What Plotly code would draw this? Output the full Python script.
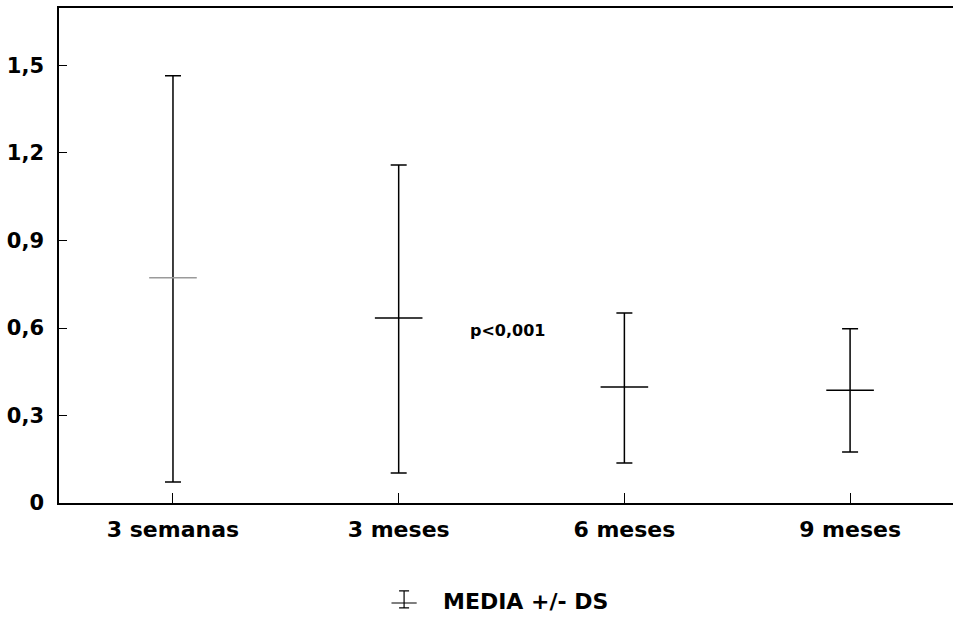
import plotly.graph_objects as go

categories = ["3 semanas", "3 meses", "6 meses", "9 meses"]
means = [0.772, 0.634, 0.398, 0.387]
upper = [1.465, 1.159, 0.651, 0.597]
lower = [0.072, 0.103, 0.137, 0.175]
y_tickvals = [0, 0.3, 0.6, 0.9, 1.2, 1.5]
y_ticktext = ["0", "0,3", "0,6", "0,9", "1,2", "1,5"]
annotation_text = "p<0,001"
annotation_pos = (1.48, 0.593)
legend_label = "MEDIA +/- DS"
legend_mark = {"y": -0.125, "plus": 0.5, "minus": 0.208}

x = list(range(len(categories)))
err_plus = [u - m for u, m in zip(upper, means)]
err_minus = [m - l for m, l in zip(means, lower)]

FONT = "DejaVu Sans"

fig = go.Figure()
fig.add_trace(go.Scatter(
    x=x, y=means, mode="markers",
    marker=dict(symbol="line-ew", size=34, color="black",
                line=dict(width=1.5, color=["#9a9a9a", "black", "black", "black"])),
    error_y=dict(type="data", symmetric=False, array=err_plus, arrayminus=err_minus,
                 color="black", thickness=1.5, width=8),
    showlegend=False, hoverinfo="skip",
))

# legend glyph on a small helper axis
fig.add_trace(go.Scatter(
    x=[0], y=[legend_mark["y"]], mode="markers", xaxis="x2", yaxis="y2",
    marker=dict(symbol="line-ew", size=18, color="black", line=dict(width=1.2, color="black")),
    error_y=dict(type="data", symmetric=False, array=[legend_mark["plus"]],
                 arrayminus=[legend_mark["minus"]], color="black", thickness=1.2, width=5),
    showlegend=False, hoverinfo="skip",
))

fig.add_annotation(x=annotation_pos[0], y=annotation_pos[1], text="<b>" + annotation_text.replace("<", "&lt;") + "</b>",
                   showarrow=False, font=dict(family=FONT, size=16, color="black"),
                   xref="x", yref="y")
fig.add_annotation(x=0.427, y=0.0373, xref="paper", yref="paper", text="<b>" + legend_label + "</b>",
                   showarrow=False, xanchor="left", yanchor="middle",
                   font=dict(family=FONT, size=22, color="black"))

fig.update_layout(
    width=953, height=624,
    margin=dict(l=59, r=0, t=8, b=0, autoexpand=False),
    paper_bgcolor="white", plot_bgcolor="white",
    font=dict(family=FONT, color="black"),
    xaxis=dict(range=[-0.505, 3.456], tickvals=x, ticktext=["<b>" + c + "</b>" for c in categories],
               showline=True, linecolor="black", linewidth=1.5, mirror=True,
               ticks="inside", ticklen=10, tickcolor="black", tickwidth=1.2,
               showgrid=False, zeroline=False, automargin=False,
               tickfont=dict(family=FONT, size=22, color="black"),
               ticklabelstandoff=6),
    yaxis=dict(range=[0, 1.697], domain=[0.1964, 1], tickvals=y_tickvals,
               ticktext=["<b>" + t + "</b>" for t in y_ticktext],
               showline=True, linecolor="black", linewidth=1.5,
               ticks="inside", ticklen=8, tickcolor="black", tickwidth=1.2,
               showgrid=False, zeroline=False, automargin=False,
               tickfont=dict(family=FONT, size=21, color="black"),
               ticklabelstandoff=9),
    xaxis2=dict(domain=[0.356, 0.416], range=[-1, 1], anchor="y2", visible=False, automargin=False),
    yaxis2=dict(domain=[0, 0.078], range=[-1, 1], anchor="x2", visible=False, automargin=False),
)

fig.write_html("out.html", config={"displayModeBar": False},
               post_script="document.body.style.margin='0';document.body.style.padding='0';document.body.style.overflow='hidden';")
